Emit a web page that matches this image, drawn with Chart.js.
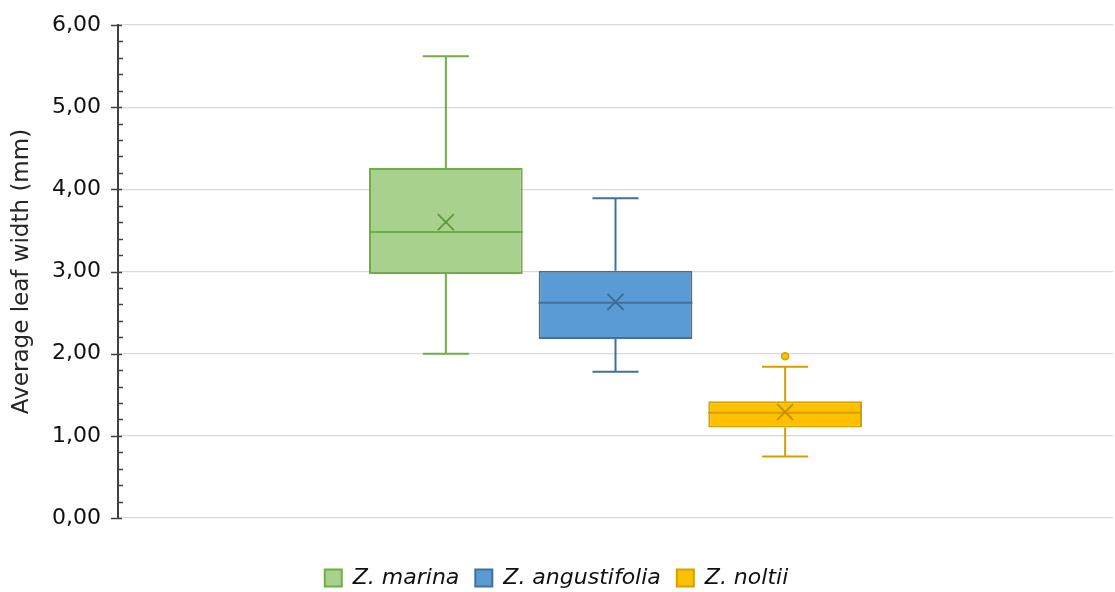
<!DOCTYPE html>
<html>
<head>
<meta charset="utf-8">
<script src="https://cdn.jsdelivr.net/npm/chart.js@4.4.1/dist/chart.umd.min.js"></script>
<style>
html,body{margin:0;padding:0;background:#fff;}
#wrap{width:1115px;height:592px;position:relative;}
</style>
</head>
<body>
<div id="wrap"><canvas id="c"></canvas></div>
<script>
const categories = ['Z. marina', 'Z. angustifolia', 'Z. noltii'];
const mins     = [2.00, 1.78, 0.75];
const q1s      = [2.97, 2.18, 1.10];
const medians  = [3.48, 2.62, 1.28];
const q3s      = [4.26, 3.01, 1.42];
const maxs     = [5.62, 3.89, 1.84];
const means    = [3.60, 2.63, 1.29];
const outliers = [[], [], [1.97]];
const yTicks   = [0, 1, 2, 3, 4, 5, 6];
const yTitle   = 'Average leaf width (mm)';

const fills   = ['#A9D18E', '#5B9BD5', '#FFC000'];
const borders = ['#70AD47', '#41719C', '#D4A000'];
const marks   = ['#5E9A3A', '#3A6A94', '#C49000'];

const boxPlot = {
  id: 'boxPlot',
  afterDatasetsDraw(chart) {
    const ctx = chart.ctx, y = chart.scales.y;
    chart.data.datasets.forEach((ds, i) => {
      const bar = chart.getDatasetMeta(i).data[0];
      const x = bar.x, w = bar.width, cap = w * 0.3;
      ctx.save();
      ctx.strokeStyle = borders[i];
      ctx.lineWidth = 2;
      const pMin = y.getPixelForValue(mins[i]), pMax = y.getPixelForValue(maxs[i]);
      const pQ1 = y.getPixelForValue(q1s[i]), pQ3 = y.getPixelForValue(q3s[i]);
      const pMed = y.getPixelForValue(medians[i]);
      ctx.beginPath();
      ctx.moveTo(x, pQ3); ctx.lineTo(x, pMax);
      ctx.moveTo(x - cap / 2, pMax); ctx.lineTo(x + cap / 2, pMax);
      ctx.moveTo(x, pQ1); ctx.lineTo(x, pMin);
      ctx.moveTo(x - cap / 2, pMin); ctx.lineTo(x + cap / 2, pMin);
      ctx.moveTo(x - w / 2, pMed); ctx.lineTo(x + w / 2, pMed);
      ctx.stroke();
      // mean marker
      const pMean = y.getPixelForValue(means[i]), s = 8;
      ctx.strokeStyle = marks[i];
      ctx.lineWidth = 1.8;
      ctx.beginPath();
      ctx.moveTo(x - s, pMean - s); ctx.lineTo(x + s, pMean + s);
      ctx.moveTo(x + s, pMean - s); ctx.lineTo(x - s, pMean + s);
      ctx.stroke();
      // outliers
      ctx.fillStyle = fills[i];
      ctx.strokeStyle = borders[i];
      ctx.lineWidth = 1.5;
      outliers[i].forEach(v => {
        ctx.beginPath();
        ctx.arc(x, y.getPixelForValue(v), 3.5, 0, Math.PI * 2);
        ctx.fill(); ctx.stroke();
      });
      ctx.restore();
    });
  },
  afterDraw(chart) {
    const ctx = chart.ctx, y = chart.scales.y, left = chart.chartArea.left;
    ctx.save();
    ctx.strokeStyle = '#404040';
    ctx.lineWidth = 1.5;
    ctx.beginPath();
    for (let k = 0; k <= 30; k++) {
      const v = k / 5;
      const p = Math.round(y.getPixelForValue(v)) + 0.5;
      if (k % 5 === 0) { ctx.moveTo(left - 7, p); ctx.lineTo(left + 4, p); }
      else { ctx.moveTo(left, p); ctx.lineTo(left + 5, p); }
    }
    ctx.stroke();
    ctx.restore();
  }
};

new Chart(document.getElementById('c'), {
  type: 'bar',
  data: {
    labels: [''],
    datasets: categories.map((name, i) => ({
      label: name,
      data: [[q1s[i], q3s[i]]],
      backgroundColor: fills[i],
      borderColor: borders[i],
      borderWidth: 2,
      borderSkipped: false
    }))
  },
  options: {
    responsive: true,
    maintainAspectRatio: false,
    animation: false,
    categoryPercentage: 0.5115,
    barPercentage: 0.906,
    layout: { padding: { top: 25, right: 2, left: 0, bottom: -7 } },
    plugins: {
      tooltip: { enabled: false },
      legend: {
        position: 'bottom',
        labels: {
          boxWidth: 17, boxHeight: 17, padding: 16,
          color: '#111',
          font: { family: 'DejaVu Sans', size: 22, style: 'italic' }
        }
      }
    },
    scales: {
      x: {
        display: true,
        grid: { display: false },
        border: { display: false },
        ticks: { display: false },
        afterFit(s) { s.height = 33; }
      },
      y: {
        min: 0, max: 6,
        afterBuildTicks(s) { s.ticks = yTicks.map(v => ({ value: v })); },
        afterFit(s) { s.width = 118; s.paddingTop = 0; },
        grid: { color: '#d9d9d9', lineWidth: 1.2, drawTicks: false },
        border: { display: true, color: '#404040', width: 2 },
        ticks: {
          padding: 17,
          color: '#111',
          font: { family: 'DejaVu Sans', size: 22 },
          callback: v => v.toFixed(2).replace('.', ',')
        },
        title: {
          display: true, text: yTitle, color: '#262626',
          font: { family: 'DejaVu Sans', size: 23 },
          padding: { top: 8, bottom: 0 }
        }
      }
    }
  },
  plugins: [boxPlot]
});
</script>
</body>
</html>
